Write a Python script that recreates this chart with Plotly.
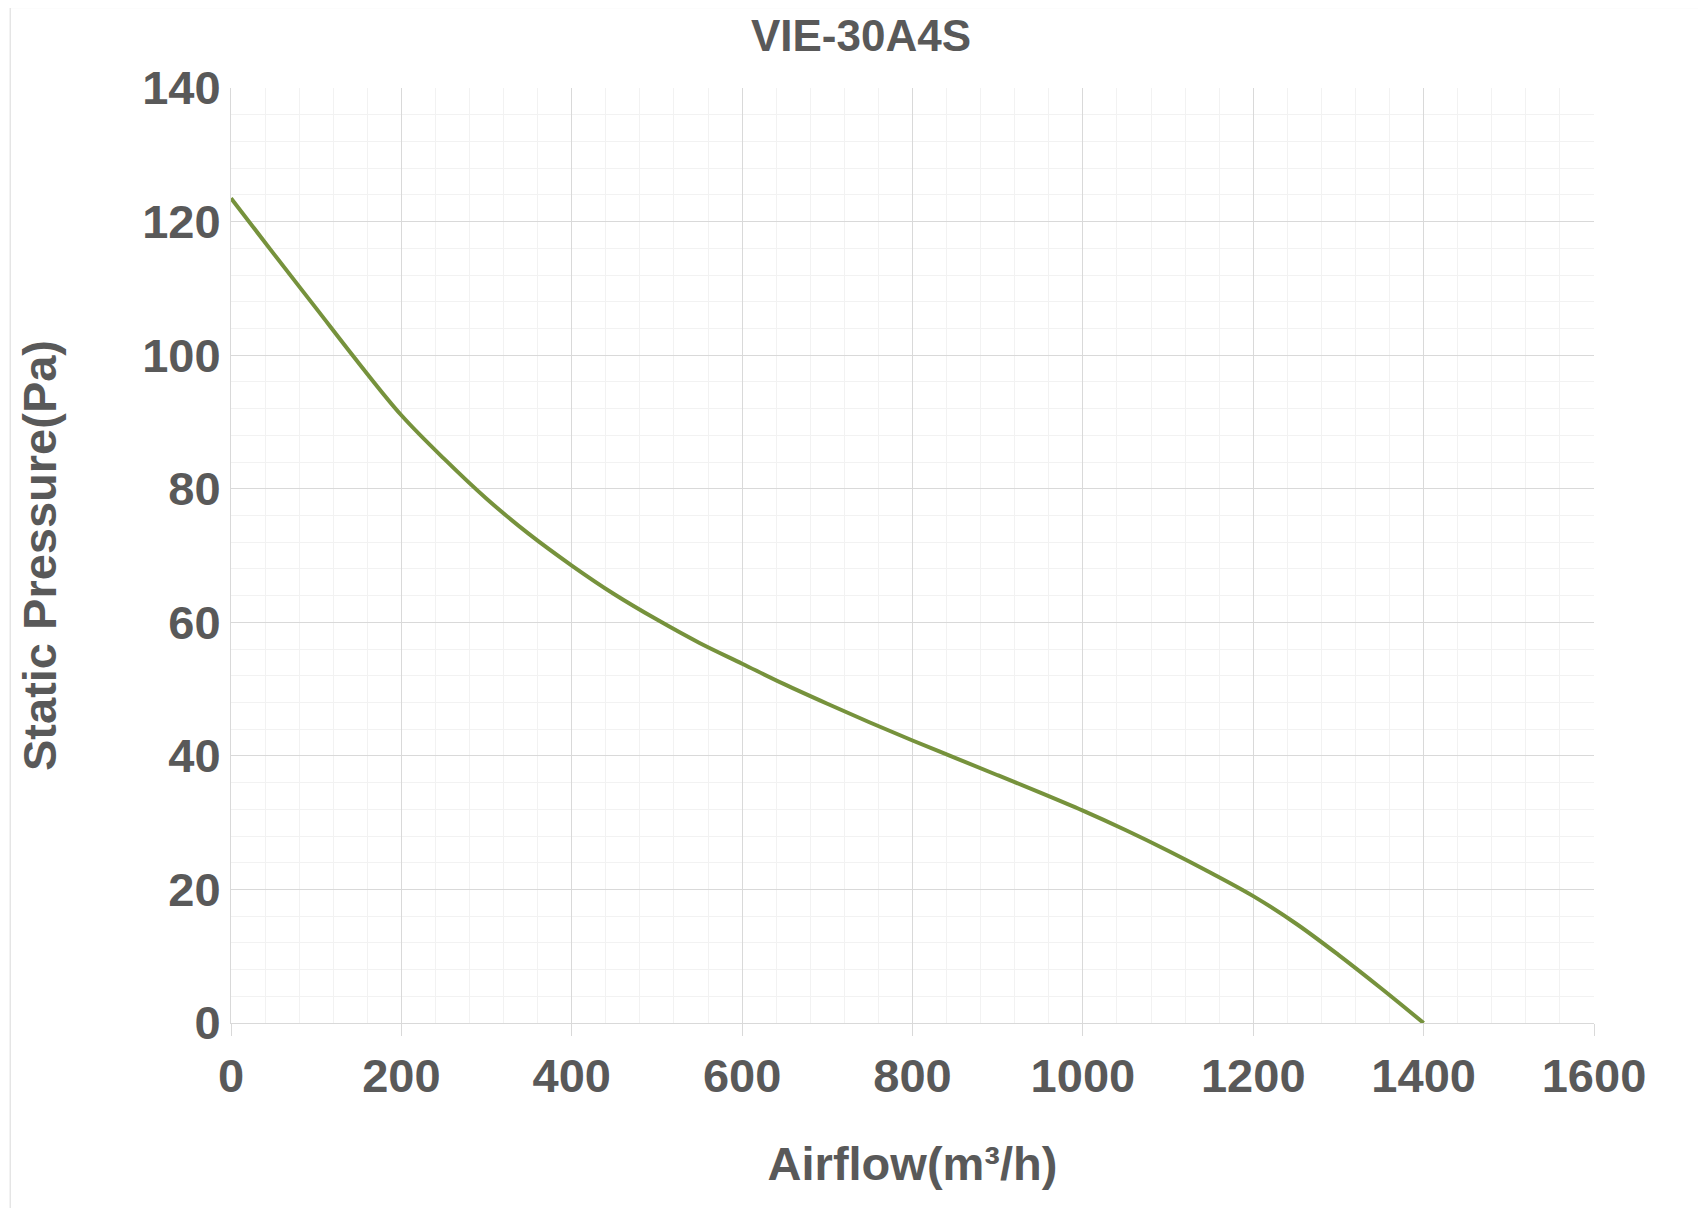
import plotly.graph_objects as go

airflow = [0, 50, 100, 150, 200, 250, 300, 350, 400, 450, 500, 550, 600, 650, 700, 750, 800,
           850, 900, 950, 1000, 1050, 1100, 1150, 1200, 1250, 1300, 1350, 1400]
pressure = [123.5, 115.2, 107, 98.8, 91, 84.5, 78.5, 73.2, 68.5, 64.2, 60.4, 56.9, 53.8, 50.7,
            47.8, 45, 42.3, 39.7, 37.1, 34.5, 31.8, 28.9, 25.8, 22.5, 19, 14.9, 10.2, 5.2, 0]

fig = go.Figure()
fig.add_trace(go.Scatter(x=airflow, y=pressure, mode='lines', line=dict(color='#76923C', width=4, shape='spline')))

axis_font = dict(family='Liberation Sans', size=47, color='#595959')
fig.update_layout(
    width=1706, height=1208, plot_bgcolor='white', paper_bgcolor='white', showlegend=False,
    margin=dict(l=223, r=120, t=80, b=193),
    title=dict(text='<b>VIE-30A4S</b>', x=0.5, xanchor='center', y=0.99, yanchor='top',
               font=dict(family='Liberation Sans', size=44, color='#595959')),
    font=axis_font,
)
fig.update_xaxes(range=[0, 1600], dtick=200, showgrid=True, gridcolor='#D9D9D9', gridwidth=1,
                 minor=dict(dtick=40, showgrid=True, gridcolor='#F2F2F2'),
                 showline=True, linecolor='#D9D9D9', zeroline=False, tickfont=axis_font,
                 ticks='outside', ticklen=12, tickcolor='#D9D9D9', tickprefix='<b>', ticksuffix='</b>',
                 title=dict(text='<b>Airflow(m³/h)</b>', font=axis_font, standoff=45))
fig.update_yaxes(range=[0, 140], dtick=20, showgrid=True, gridcolor='#D9D9D9', gridwidth=1,
                 minor=dict(dtick=4, showgrid=True, gridcolor='#F2F2F2'),
                 showline=True, linecolor='#D9D9D9', zeroline=False, tickfont=axis_font,
                 tickprefix='<b>', ticksuffix='</b>',
                 title=dict(text='<b>Static Pressure(Pa)</b>', font=axis_font, standoff=70))
fig.add_shape(type='rect', xref='paper', yref='paper', x0=-0.162, x1=1.086, y0=-0.204, y1=1.086,
              line=dict(color='#D9D9D9', width=1))

fig.write_html("out.html")
